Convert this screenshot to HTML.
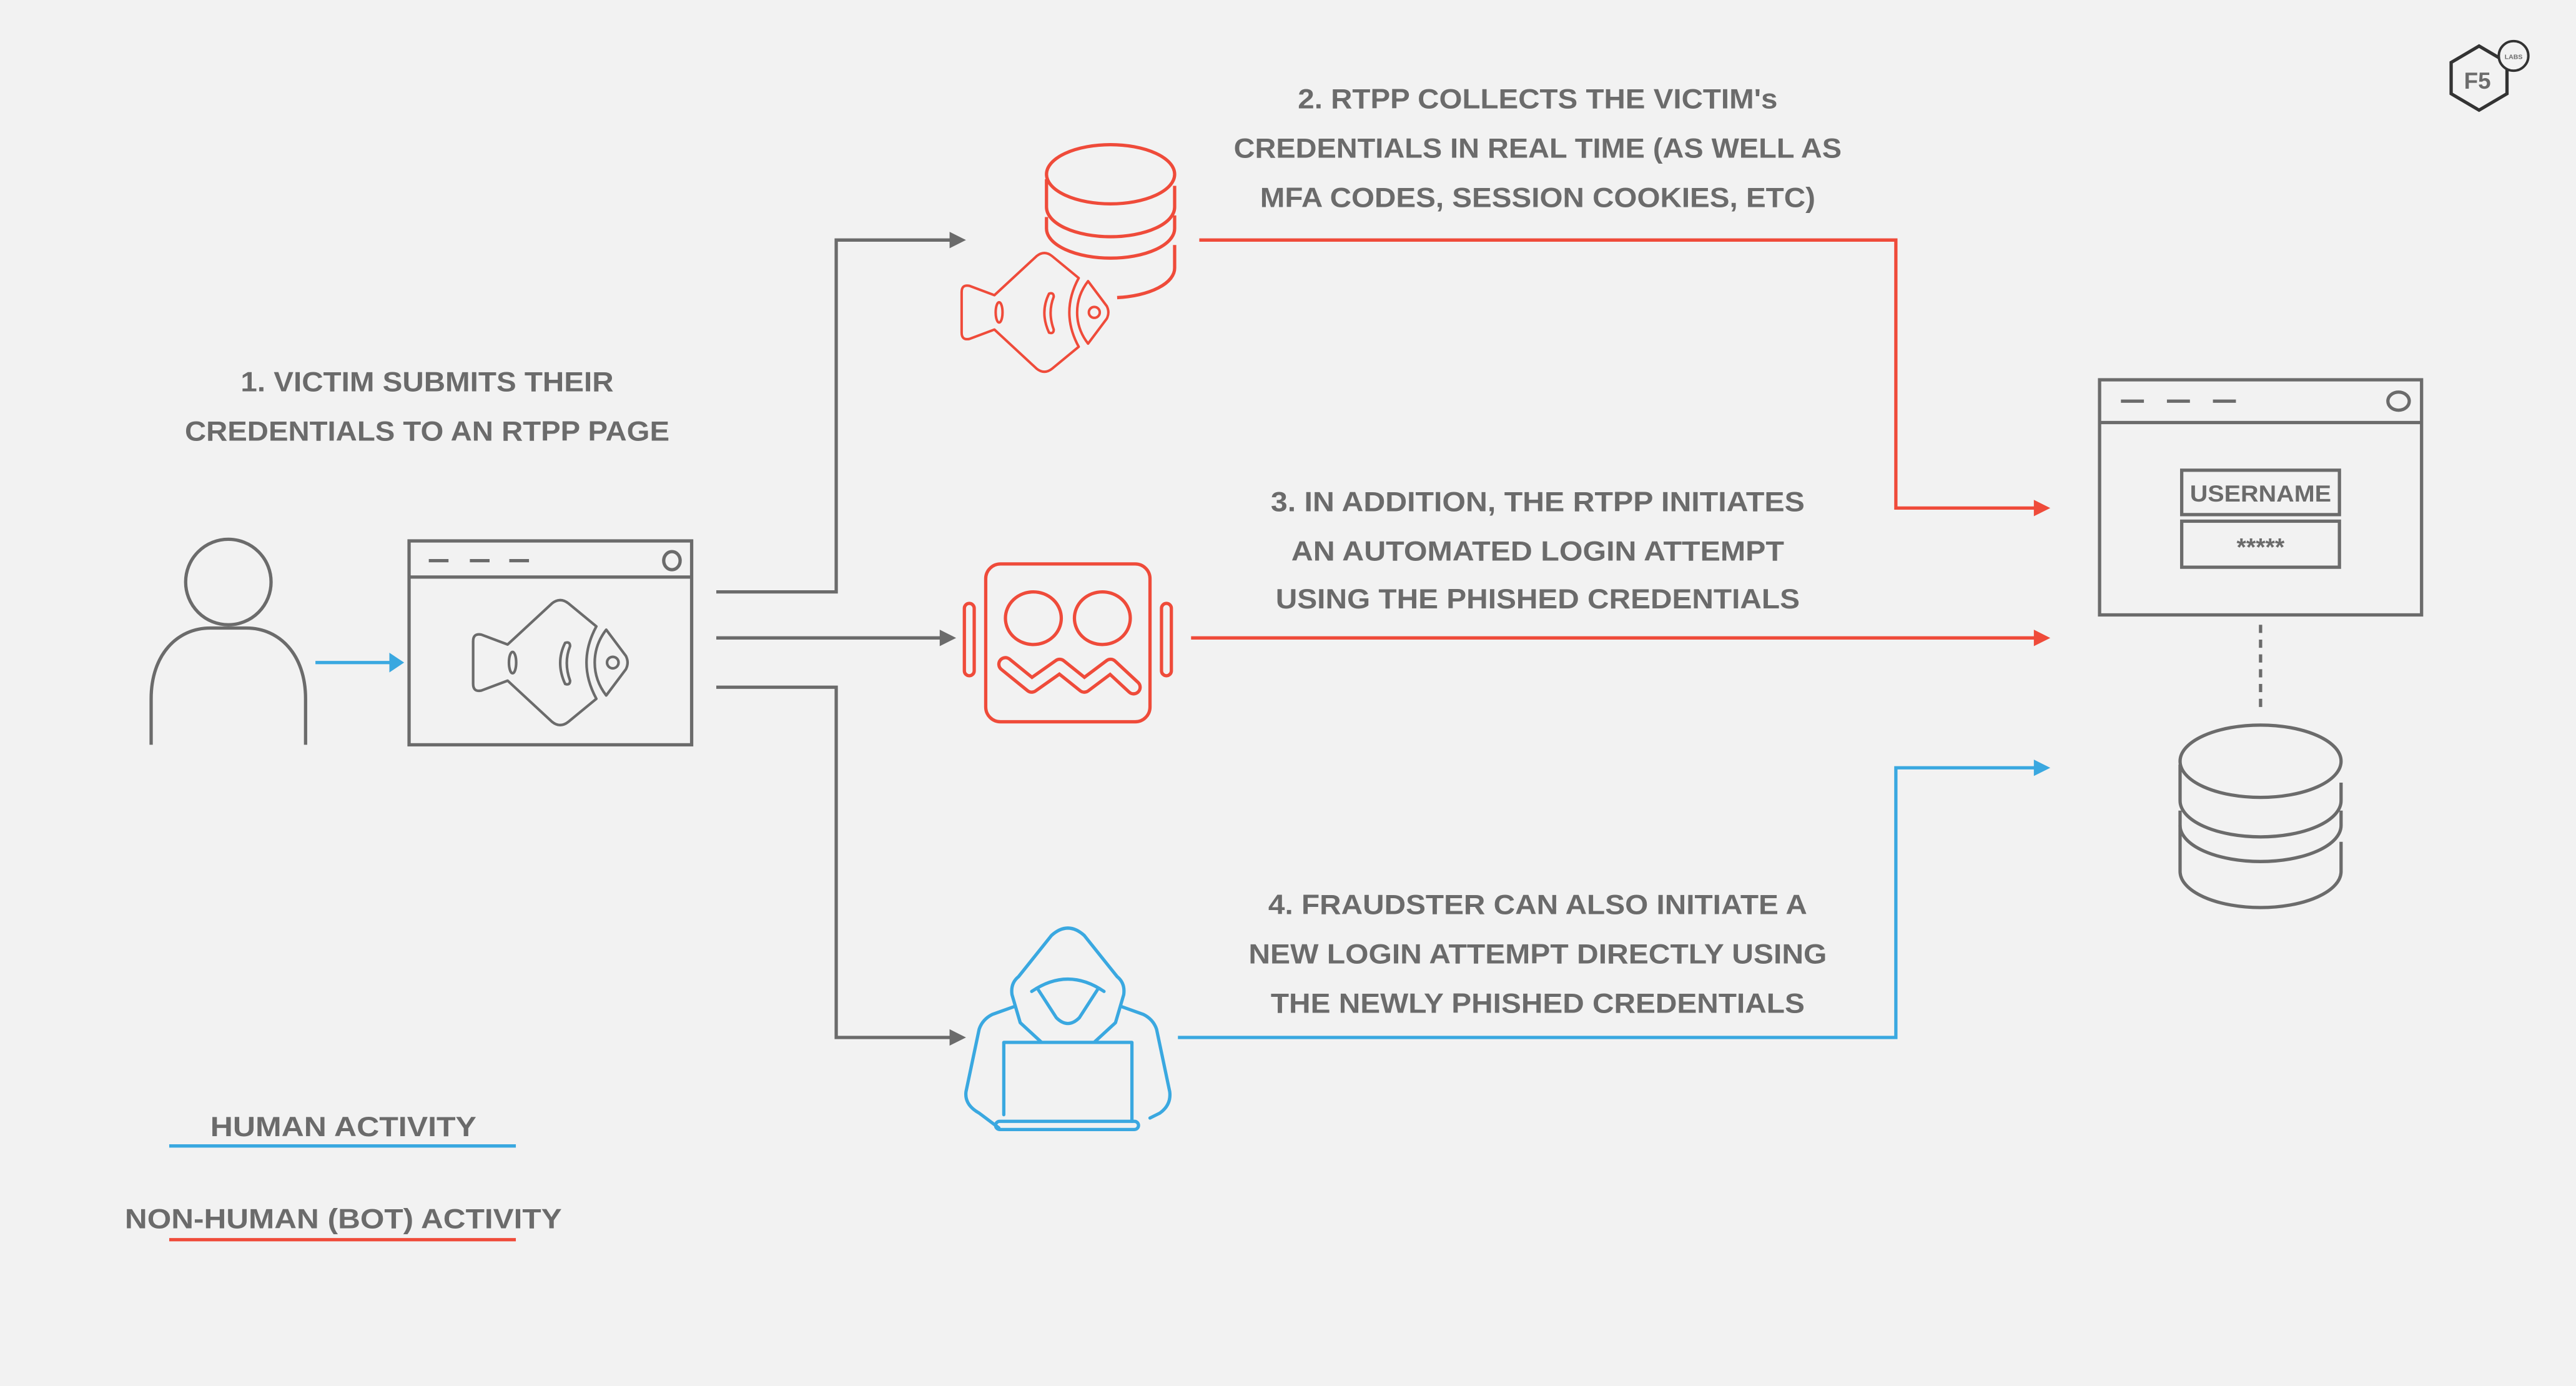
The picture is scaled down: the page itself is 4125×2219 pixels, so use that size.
<!DOCTYPE html>
<html><head><meta charset="utf-8"><style>
html,body{margin:0;padding:0;background:#f2f2f2;}
svg{display:block;}
text{font-family:"Liberation Sans",sans-serif;font-weight:bold;fill:#6b6b6b;}
</style></head><body>
<svg width="4125" height="2219" viewBox="0 0 1568 843" preserveAspectRatio="none" xmlns="http://www.w3.org/2000/svg">
<defs>
<g id="fish" fill="none" stroke-width="1.6" stroke-linejoin="round" stroke-linecap="round">
  <path fill="#f2f2f2" d="M-26,-11 L-42,-17 Q-47,-18 -47,-13 V13 Q-47,18 -42,17 L-26,11 L1,36 Q6,40 11,36 L28,22 Q22,11 22,0 Q22,-11 28,-22 L11,-36 Q6,-40 1,-36 Z"/>
  <path fill="#f2f2f2" d="M34,-20 L46,-4 Q48,0 46,4 L34,20 Q27,11 27,0 Q27,-11 34,-20 Z"/>
  <circle cx="38" cy="0" r="3.5"/>
  <path d="M9,-12 Q3,0 9,13 Q12,14 12,11 Q8,0 12,-10 Q12,-13 9,-12 Z"/>
  <ellipse cx="-23" cy="0" rx="2.2" ry="6.5"/>
</g>
</defs>
<rect width="1568" height="843" fill="#f2f2f2"/>

<!-- texts -->
<text x="260" y="238" text-anchor="middle" font-size="17" textLength="227" lengthAdjust="spacingAndGlyphs">1. VICTIM SUBMITS THEIR</text>
<text x="260" y="268" text-anchor="middle" font-size="17" textLength="295" lengthAdjust="spacingAndGlyphs">CREDENTIALS TO AN RTPP PAGE</text>
<text x="936" y="66" text-anchor="middle" font-size="17" textLength="292" lengthAdjust="spacingAndGlyphs">2. RTPP COLLECTS THE VICTIM's</text>
<text x="936" y="96" text-anchor="middle" font-size="17" textLength="370" lengthAdjust="spacingAndGlyphs">CREDENTIALS IN REAL TIME (AS WELL AS</text>
<text x="936" y="126" text-anchor="middle" font-size="17" textLength="338" lengthAdjust="spacingAndGlyphs">MFA CODES, SESSION COOKIES, ETC)</text>
<text x="936" y="311" text-anchor="middle" font-size="17" textLength="325" lengthAdjust="spacingAndGlyphs">3. IN ADDITION, THE RTPP INITIATES</text>
<text x="936" y="341" text-anchor="middle" font-size="17" textLength="300" lengthAdjust="spacingAndGlyphs">AN AUTOMATED LOGIN ATTEMPT</text>
<text x="936" y="370" text-anchor="middle" font-size="17" textLength="319" lengthAdjust="spacingAndGlyphs">USING THE PHISHED CREDENTIALS</text>
<text x="936" y="556" text-anchor="middle" font-size="17" textLength="328" lengthAdjust="spacingAndGlyphs">4. FRAUDSTER CAN ALSO INITIATE A</text>
<text x="936" y="586" text-anchor="middle" font-size="17" textLength="352" lengthAdjust="spacingAndGlyphs">NEW LOGIN ATTEMPT DIRECTLY USING</text>
<text x="936" y="616" text-anchor="middle" font-size="17" textLength="325" lengthAdjust="spacingAndGlyphs">THE NEWLY PHISHED CREDENTIALS</text>
<text x="209" y="691" text-anchor="middle" font-size="17" textLength="162" lengthAdjust="spacingAndGlyphs">HUMAN ACTIVITY</text>
<text x="209" y="747" text-anchor="middle" font-size="17" textLength="266" lengthAdjust="spacingAndGlyphs">NON-HUMAN (BOT) ACTIVITY</text>
<line x1="103" y1="697" x2="314" y2="697" stroke="#3aa8e0" stroke-width="2"/>
<line x1="103" y1="754" x2="314" y2="754" stroke="#ef4b3a" stroke-width="2"/>

<!-- person -->
<g fill="none" stroke="#6b6b6b" stroke-width="2">
  <circle cx="139" cy="354" r="26"/>
  <path d="M92,453 V425 C92,398 108,382 128,382 H150 C170,382 186,398 186,425 V453"/>
</g>
<line x1="192" y1="403" x2="238" y2="403" stroke="#3aa8e0" stroke-width="2"/>
<polygon points="237,397 246,403 237,409" fill="#3aa8e0"/>

<!-- browser 1 -->
<g fill="none" stroke="#6b6b6b" stroke-width="2">
  <rect x="249" y="329" width="172" height="124"/>
  <line x1="249" y1="351" x2="421" y2="351"/>
  <line x1="261" y1="341" x2="273" y2="341"/>
  <line x1="286" y1="341" x2="298" y2="341"/>
  <line x1="310" y1="341" x2="322" y2="341"/>
  <ellipse cx="409" cy="341" rx="5" ry="5.5"/>
</g>
<use href="#fish" transform="translate(335,403)" stroke="#6b6b6b"/>

<!-- gray connectors -->
<g fill="none" stroke="#6b6b6b" stroke-width="2">
  <polyline points="436,360 509,360 509,146 579,146"/>
  <line x1="436" y1="388" x2="573" y2="388"/>
  <polyline points="436,418 509,418 509,631 579,631"/>
</g>
<g fill="#6b6b6b">
  <polygon points="578,141 588,146 578,151"/>
  <polygon points="572,383 582,388 572,393"/>
  <polygon points="578,626 588,631 578,636"/>
</g>

<!-- red db + fish -->
<g fill="none" stroke="#ef4b3a" stroke-width="2">
  <ellipse cx="676" cy="106" rx="39" ry="18"/>
  <path d="M637,109 V126 A39,18 0 0 0 715,126 V113"/>
  <path d="M637,132 V139 A39,18 0 0 0 715,139 V131"/>
  <path d="M715,149 V163 A39,18 0 0 1 680,181"/>
</g>
<use href="#fish" transform="translate(630,190) scale(0.95)" stroke="#ef4b3a" stroke-width="2"/>

<!-- robot -->
<g fill="none" stroke="#ef4b3a" stroke-width="2">
  <rect x="600" y="343" width="100" height="96" rx="9"/>
  <rect x="587" y="367" width="6" height="44" rx="3"/>
  <rect x="707" y="367" width="6" height="44" rx="3"/>
  <ellipse cx="629" cy="376" rx="17" ry="16"/>
  <ellipse cx="671" cy="376" rx="17" ry="16"/>
</g>
<polyline points="612,404 628,417 645,405 660,417 676,405 690,418" fill="none" stroke="#ef4b3a" stroke-width="10" stroke-linejoin="round" stroke-linecap="round"/>
<polyline points="612,404 628,417 645,405 660,417 676,405 690,418" fill="none" stroke="#f2f2f2" stroke-width="6" stroke-linejoin="round" stroke-linecap="round"/>

<!-- hacker -->
<g fill="none" stroke="#3aa8e0" stroke-width="2" stroke-linejoin="round" stroke-linecap="round">
  <path d="M634,634 L621,622 L616,605 Q615,598 620,594 L640,569 Q650,560 660,569 L680,594 Q685,598 684,605 L679,622 L666,634"/>
  <path d="M628,603 Q650,588 672,603"/>
  <path d="M632,602 L643,619 Q650,626 657,619 L668,602"/>
  <path d="M618,612 L604,617 Q598,620 596,626 L588,664 Q587,672 596,677 L608,686"/>
  <path d="M682,612 L696,617 Q702,620 704,626 L712,664 Q713,672 706,677 L700,680"/>
  <path d="M611,678 V634 H689 V682"/>
  <rect x="606" y="682" width="87" height="5" rx="2.5"/>
</g>

<!-- colored connectors -->
<g fill="none" stroke-width="2">
  <polyline points="730,146 1154,146 1154,309 1240,309" stroke="#ef4b3a"/>
  <line x1="725" y1="388" x2="1240" y2="388" stroke="#ef4b3a"/>
  <polyline points="717,631 1154,631 1154,467 1240,467" stroke="#3aa8e0"/>
</g>
<polygon points="1238,304 1248,309 1238,314" fill="#ef4b3a"/>
<polygon points="1238,383 1248,388 1238,393" fill="#ef4b3a"/>
<polygon points="1238,462 1248,467 1238,472" fill="#3aa8e0"/>

<!-- login browser -->
<g fill="none" stroke="#6b6b6b" stroke-width="2">
  <rect x="1278" y="231" width="196" height="143"/>
  <line x1="1278" y1="257" x2="1474" y2="257"/>
  <line x1="1291" y1="244" x2="1305" y2="244"/>
  <line x1="1319" y1="244" x2="1333" y2="244"/>
  <line x1="1347" y1="244" x2="1361" y2="244"/>
  <ellipse cx="1460" cy="244" rx="6.5" ry="5.5"/>
  <rect x="1328" y="286" width="96" height="27"/>
  <rect x="1328" y="317" width="96" height="28"/>
  <line x1="1376" y1="380" x2="1376" y2="433" stroke-dasharray="5,4"/>
  <ellipse cx="1376" cy="463" rx="49" ry="22"/>
  <path d="M1327,465 V487 A49,22 0 0 0 1425,487 V476"/>
  <path d="M1327,493 V502 A49,22 0 0 0 1425,502 V493"/>
  <path d="M1425,512 V530 A49,22 0 0 1 1327,530 V502"/>
</g>
<text x="1376" y="305" text-anchor="middle" font-size="14" textLength="86" lengthAdjust="spacingAndGlyphs" fill="#555">USERNAME</text>
<text x="1376" y="338" text-anchor="middle" font-size="15" fill="#555">*****</text>

<!-- F5 logo -->
<g fill="none" stroke="#333" stroke-width="2">
  <polygon points="1509,28 1526,38 1526,57 1509,67 1492,57 1492,38" fill="#f2f2f2"/>
  <circle cx="1530" cy="34" r="9" fill="#f2f2f2" stroke-width="1.5"/>
</g>
<text x="1508" y="54" text-anchor="middle" font-size="14" fill="#333">F5</text>
<text x="1530" y="36" text-anchor="middle" font-size="4" fill="#333">LABS</text>
</svg>
</body></html>
